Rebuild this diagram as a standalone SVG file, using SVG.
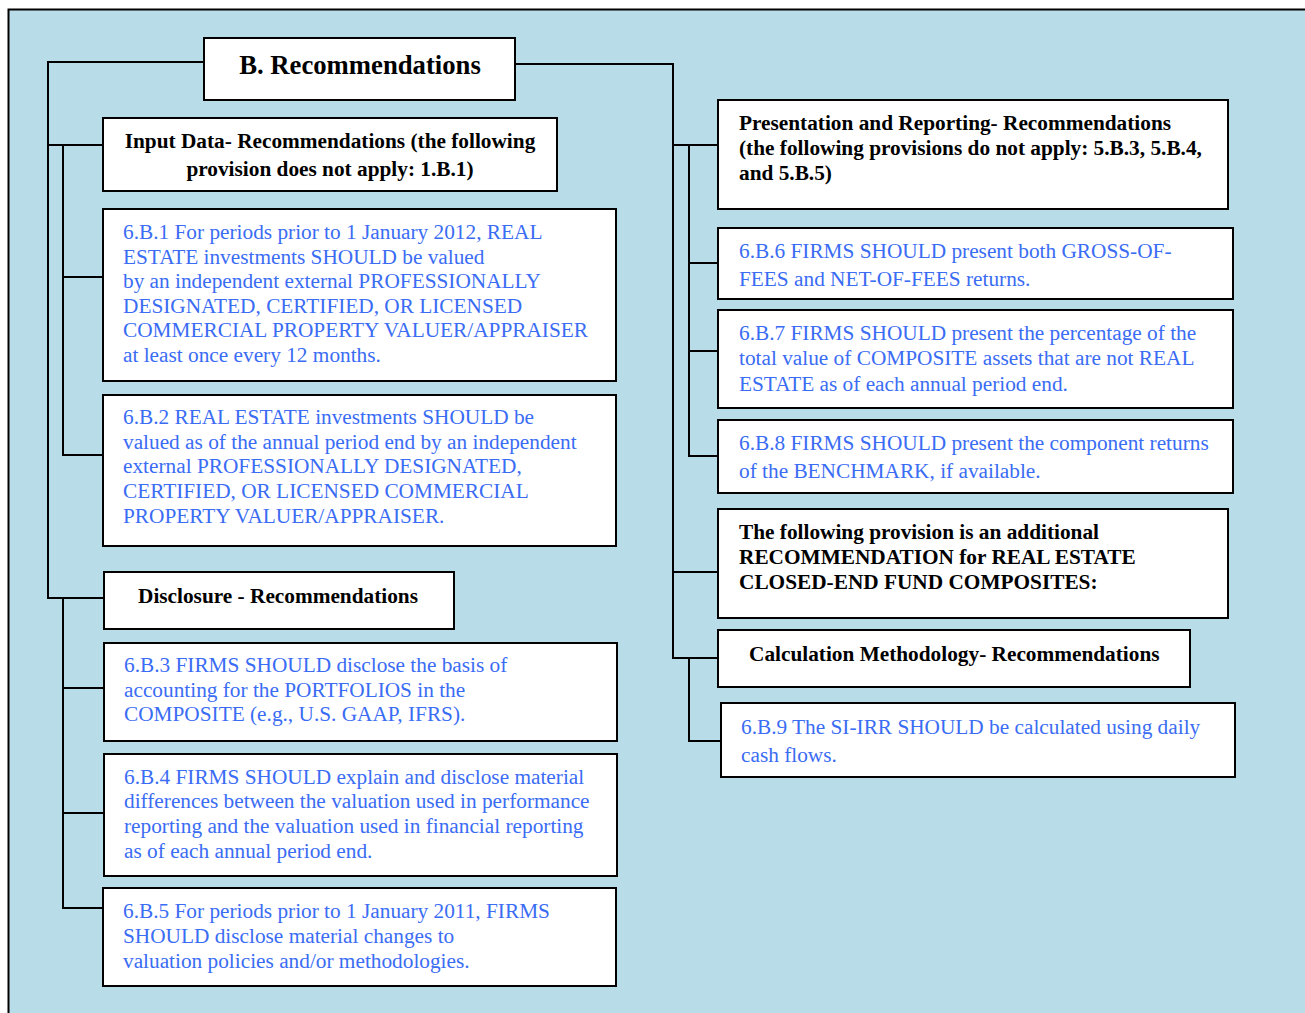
<svg xmlns="http://www.w3.org/2000/svg" width="1305" height="1013" viewBox="0 0 1305 1013">
<style>
.box{fill:#fff;stroke:#000;stroke-width:2}
.c{fill:none;stroke:#000;stroke-width:2}
.h{font-family:"Liberation Serif",serif;font-weight:bold;font-size:21.3px;fill:#000}
.t{font-family:"Liberation Serif",serif;font-size:21.3px;fill:#3a6cf4}
</style>
<rect x="8.5" y="9.5" width="1310" height="1020" fill="#b8dde8" stroke="#000" stroke-width="2"/>
<g id="connectors">
<polyline class="c" points="204,62 48,62 48,598 104,598"/>
<line class="c" x1="48" y1="145" x2="103" y2="145"/>
<polyline class="c" points="63,145 63,455 103,455"/>
<line class="c" x1="63" y1="277" x2="103" y2="277"/>
<polyline class="c" points="63,598 63,908 103,908"/>
<line class="c" x1="63" y1="688" x2="104" y2="688"/>
<line class="c" x1="63" y1="813" x2="104" y2="813"/>
<polyline class="c" points="515,64 673,64 673,658 718,658"/>
<line class="c" x1="673" y1="145" x2="718" y2="145"/>
<line class="c" x1="673" y1="572" x2="718" y2="572"/>
<polyline class="c" points="689,145 689,456 718,456"/>
<line class="c" x1="689" y1="263" x2="718" y2="263"/>
<line class="c" x1="689" y1="351" x2="718" y2="351"/>
<polyline class="c" points="689,658 689,741 721,741"/>
</g>
<g id="root">
<rect class="box" x="204" y="38" width="311" height="62"/>
<text x="360" y="74" text-anchor="middle" font-family="Liberation Serif,serif" font-weight="bold" font-size="26.7">B. Recommendations</text>
</g>
<g id="input">
<rect class="box" x="103" y="118" width="454" height="73"/>
<text class="h" text-anchor="middle"><tspan x="330" y="148">Input Data- Recommendations (the following</tspan><tspan x="330" y="176">provision does not apply: 1.B.1)</tspan></text>
</g>
<g id="b1">
<rect class="box" x="103" y="209" width="513" height="172"/>
<text class="t"><tspan x="123" y="239">6.B.1 For periods prior to 1 January 2012, REAL</tspan><tspan x="123" y="264">ESTATE investments SHOULD be valued</tspan><tspan x="123" y="288">by an independent external PROFESSIONALLY</tspan><tspan x="123" y="313">DESIGNATED, CERTIFIED, OR LICENSED</tspan><tspan x="123" y="337">COMMERCIAL PROPERTY VALUER/APPRAISER</tspan><tspan x="123" y="362">at least once every 12 months.</tspan></text>
</g>
<g id="b2">
<rect class="box" x="103" y="395" width="513" height="151"/>
<text class="t"><tspan x="123" y="424">6.B.2 REAL ESTATE investments SHOULD be</tspan><tspan x="123" y="449">valued as of the annual period end by an independent</tspan><tspan x="123" y="473">external PROFESSIONALLY DESIGNATED,</tspan><tspan x="123" y="498">CERTIFIED, OR LICENSED COMMERCIAL</tspan><tspan x="123" y="523">PROPERTY VALUER/APPRAISER.</tspan></text>
</g>
<g id="disclosure">
<rect class="box" x="104" y="572" width="350" height="57"/>
<text class="h" x="138" y="603">Disclosure - Recommendations</text>
</g>
<g id="b3">
<rect class="box" x="104" y="643" width="513" height="98"/>
<text class="t"><tspan x="124" y="672">6.B.3 FIRMS SHOULD disclose the basis of</tspan><tspan x="124" y="697">accounting for the PORTFOLIOS in the</tspan><tspan x="124" y="721">COMPOSITE (e.g., U.S. GAAP, IFRS).</tspan></text>
</g>
<g id="b4">
<rect class="box" x="104" y="754" width="513" height="122"/>
<text class="t"><tspan x="124" y="784">6.B.4 FIRMS SHOULD explain and disclose material</tspan><tspan x="124" y="808">differences between the valuation used in performance</tspan><tspan x="124" y="833">reporting and the valuation used in financial reporting</tspan><tspan x="124" y="858">as of each annual period end.</tspan></text>
</g>
<g id="b5">
<rect class="box" x="103" y="888" width="513" height="98"/>
<text class="t"><tspan x="123" y="918">6.B.5 For periods prior to 1 January 2011, FIRMS</tspan><tspan x="123" y="943">SHOULD disclose material changes to</tspan><tspan x="123" y="968">valuation policies and/or methodologies.</tspan></text>
</g>
<g id="presentation">
<rect class="box" x="718" y="100" width="510" height="109"/>
<text class="h"><tspan x="739" y="130">Presentation and Reporting- Recommendations</tspan><tspan x="739" y="155">(the following provisions do not apply: 5.B.3, 5.B.4,</tspan><tspan x="739" y="180">and 5.B.5)</tspan></text>
</g>
<g id="b6">
<rect class="box" x="718" y="228" width="515" height="71"/>
<text class="t"><tspan x="739" y="258">6.B.6 FIRMS SHOULD present both GROSS-OF-</tspan><tspan x="739" y="286">FEES and NET-OF-FEES returns.</tspan></text>
</g>
<g id="b7">
<rect class="box" x="718" y="310" width="515" height="98"/>
<text class="t"><tspan x="739" y="340">6.B.7 FIRMS SHOULD present the percentage of the</tspan><tspan x="739" y="365">total value of COMPOSITE assets that are not REAL</tspan><tspan x="739" y="391">ESTATE as of each annual period end.</tspan></text>
</g>
<g id="b8">
<rect class="box" x="718" y="420" width="515" height="73"/>
<text class="t"><tspan x="739" y="450">6.B.8 FIRMS SHOULD present the component returns</tspan><tspan x="739" y="478">of the BENCHMARK, if available.</tspan></text>
</g>
<g id="additional">
<rect class="box" x="718" y="509" width="510" height="109"/>
<text class="h"><tspan x="739" y="539">The following provision is an additional</tspan><tspan x="739" y="564">RECOMMENDATION for REAL ESTATE</tspan><tspan x="739" y="589">CLOSED-END FUND COMPOSITES:</tspan></text>
</g>
<g id="calc">
<rect class="box" x="718" y="630" width="472" height="57"/>
<text class="h" x="749" y="661">Calculation Methodology- Recommendations</text>
</g>
<g id="b9">
<rect class="box" x="721" y="703" width="514" height="74"/>
<text class="t"><tspan x="741" y="734">6.B.9 The SI-IRR SHOULD be calculated using daily</tspan><tspan x="741" y="762">cash flows.</tspan></text>
</g>
</svg>
